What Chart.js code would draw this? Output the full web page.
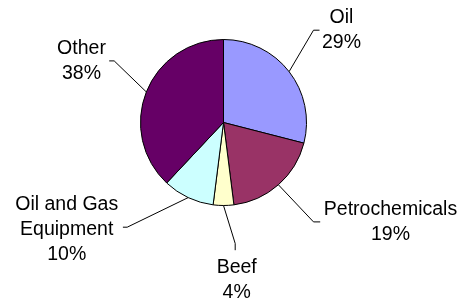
<!DOCTYPE html>
<html>
<head>
<meta charset="utf-8">
<script src="https://cdn.jsdelivr.net/npm/chart.js@4/dist/chart.umd.min.js"></script>
<style>
html,body{margin:0;padding:0;background:#fff;}
#wrap{width:463px;height:300px;position:relative;}
</style>
</head>
<body>
<div id="wrap"><canvas id="c" width="463" height="300"></canvas></div>
<script>
// Data
const categories = ["Oil", "Petrochemicals", "Beef", "Oil and Gas Equipment", "Other"];
const shares = [29, 19, 4, 10, 38];
const sliceColors = ["#9999FF", "#993366", "#FFFFCC", "#CCFFFF", "#660066"];

// Label layout (relative to pie centre): elbow, tail end, text centre, line break
const labelLayout = [
  {elbow:[90,-92.3], tail:[96,-92.3], text:[28,-12.5], lines:["Oil"]},
  {elbow:[90,99.4], tail:[96.7,99.4], text:[77,-12.5], lines:["Petrochemicals"]},
  {elbow:[11.7,121], tail:[11.7,127.7], text:[1.5,24], lines:["Beef"]},
  {elbow:[-96.3,104.7], tail:[-100.6,104.7], text:[-60.5,-22.5], lines:["Oil and Gas","Equipment"]},
  {elbow:[-109.3,-61.6], tail:[-114.3,-61.6], text:[-32.7,-12.3], lines:["Other"]}
];

const leaderPlugin = {
  id: 'leaders',
  afterDatasetsDraw(chart) {
    const ctx = chart.ctx;
    const meta = chart.getDatasetMeta(0);
    ctx.save();
    ctx.strokeStyle = '#000';
    ctx.lineWidth = 1;
    ctx.fillStyle = '#000';
    ctx.font = '19.5px "Liberation Sans", Arial, sans-serif';
    ctx.textAlign = 'center';
    ctx.textBaseline = 'middle';
    meta.data.forEach((arc, i) => {
      const p = arc.getProps(['x','y','startAngle','endAngle','outerRadius'], true);
      const mid = (p.startAngle + p.endAngle) / 2;
      const sx = p.x + Math.cos(mid) * p.outerRadius;
      const sy = p.y + Math.sin(mid) * p.outerRadius;
      const L = labelLayout[i];
      const ex = p.x + L.elbow[0], ey = p.y + L.elbow[1];
      const tx = p.x + L.tail[0], ty = p.y + L.tail[1];
      ctx.beginPath();
      ctx.moveTo(sx, sy);
      ctx.lineTo(ex, ey);
      ctx.lineTo(tx, ty);
      ctx.stroke();
      const lines = L.lines.concat([shares[i] + '%']);
      const cx = ex + L.text[0];
      let cy = ey + L.text[1];
      lines.forEach((t, k) => {
        ctx.fillText(t, cx, cy + k * 25);
      });
    });
    ctx.restore();
  }
};

new Chart(document.getElementById('c'), {
  type: 'pie',
  data: {
    labels: categories,
    datasets: [{
      data: shares,
      backgroundColor: sliceColors,
      borderColor: '#000',
      borderWidth: 1
    }]
  },
  options: {
    responsive: false,
    animation: false,
    devicePixelRatio: 1,
    layout: {padding: {left: 140, right: 156, top: 39, bottom: 94}},
    plugins: {
      legend: {display: false},
      tooltip: {enabled: false}
    }
  },
  plugins: [leaderPlugin]
});
</script>
</body>
</html>
